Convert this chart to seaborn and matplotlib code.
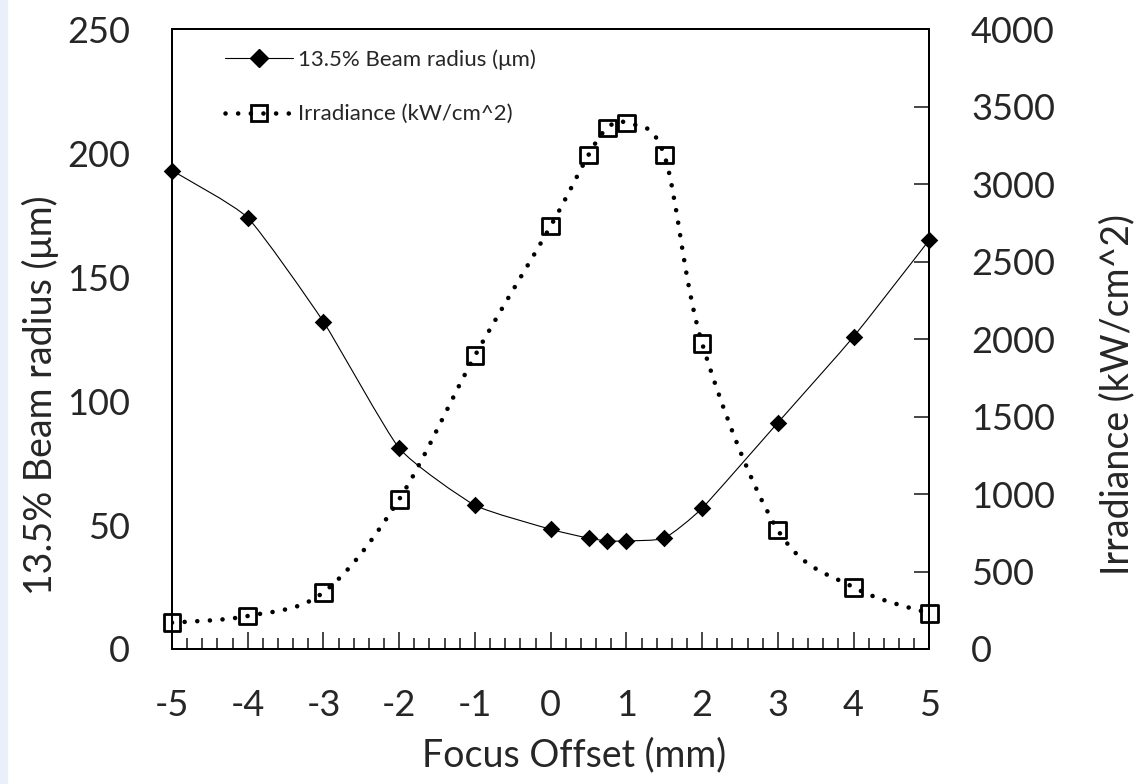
import numpy as np
import pandas as pd
import seaborn as sns
import matplotlib.pyplot as plt
from matplotlib.path import Path
from matplotlib.patches import PathPatch, Rectangle
from matplotlib.lines import Line2D

# values
focus_offset = [-5, -4, -3, -2, -1, 0, 0.5, 0.75, 1, 1.5, 2, 3, 4, 5]
beam_radius = [193, 174, 132, 81, 58, 48.3, 44.7, 43.6, 43.6, 44.7, 56.8, 91.3, 126, 165]
irradiance = [170, 213, 366, 966, 1893, 2730, 3189, 3363, 3395, 3189, 1973, 768, 398, 230]

df = pd.DataFrame({'offset': focus_offset, 'radius': beam_radius, 'irr': irradiance})

sns.set_style('white')
plt.rcParams['font.family'] = ['Lato', 'DejaVu Sans']
plt.rcParams['axes.unicode_minus'] = False


def smooth_path(x, y, k=6.0):
    # Excel-like smoothed line: Catmull-Rom segments drawn as cubic Beziers
    pts = np.column_stack([x, y]).astype(float)
    n = len(pts)
    verts = [pts[0]]
    codes = [Path.MOVETO]
    for i in range(n - 1):
        p0 = pts[i - 1] if i > 0 else pts[i]
        p1 = pts[i]
        p2 = pts[i + 1]
        p3 = pts[i + 2] if i + 2 < n else pts[i + 1]
        verts += [p1 + (p2 - p0) / k, p2 - (p3 - p1) / k, p2]
        codes += [Path.CURVE4] * 3
    return Path(verts, codes)


fig = plt.figure(figsize=(11.34, 7.84), dpi=100)
fig.patches.append(Rectangle((0, 0), 7 / 1134, 1, transform=fig.transFigure,
                             color='#e9f0fa', zorder=0))
ax = fig.add_axes([172 / 1134, 1 - 649 / 784, (929.3 - 172) / 1134, (649 - 29.3) / 784])
ax2 = ax.twinx()

dots = (0, (0.01, 2.75))

ax.add_patch(PathPatch(smooth_path(df['offset'], df['radius'], k=12.0), facecolor='none',
                       edgecolor='black', lw=0.8, zorder=2))
sns.scatterplot(data=df, x='offset', y='radius', ax=ax, marker='D', s=80,
                color='black', edgecolor='black', linewidth=0, legend=False, zorder=3,
                clip_on=False)

ax2.add_patch(PathPatch(smooth_path(df['offset'], df['irr']), facecolor='none',
                        edgecolor='black', lw=3.3, linestyle=dots, capstyle='round',
                        zorder=2))
sns.scatterplot(data=df, x='offset', y='irr', ax=ax2, marker='s', s=145,
                facecolor='none', edgecolor='black', linewidth=2.0, legend=False,
                zorder=3, clip_on=False)

ax.set_xlim(-5, 5)
ax.set_ylim(0, 250)
ax2.set_ylim(0, 4000)
ax.set_xticks(range(-5, 6))
ax.set_xticks(np.arange(-5, 5.01, 0.2), minor=True)
ax.set_yticks(range(0, 251, 50))
ax2.set_yticks(range(0, 4001, 500))

ax.tick_params(axis='x', which='major', direction='in', length=12, width=1.2,
               labelsize=26, pad=29, top=False, bottom=True)
ax.tick_params(axis='x', which='minor', direction='in', length=8, width=1.2,
               top=False, bottom=True)
ax.tick_params(axis='y', length=0, labelsize=26, pad=30)
ax2.tick_params(axis='y', direction='in', length=11, width=1.2, labelsize=26, pad=30)

ax.set_xlabel('Focus Offset (mm)', fontsize=27, labelpad=11, x=0.531)
ax.set_ylabel('13.5% Beam radius (μm)', fontsize=27, labelpad=6, y=0.41)
ax2.set_ylabel('Irradiance (kW/cm^2)', fontsize=27, labelpad=32, y=0.41)

for a in (ax, ax2):
    for sp in a.spines.values():
        sp.set_color('black')
        sp.set_linewidth(1.4)

handles = [
    Line2D([], [], color='black', lw=0.8, marker='D', markersize=8.9),
    Line2D([], [], color='black', lw=3.3, linestyle=dots, dash_capstyle='round',
           marker='s', markersize=12, markerfacecolor='none', markeredgewidth=2.0),
]
ax.legend(handles, ['13.5% Beam radius (μm)', 'Irradiance (kW/cm^2)'],
          loc='upper left', bbox_to_anchor=(0.043, 1.0), frameon=False,
          fontsize=16, handlelength=3.1, handletextpad=0.2, labelspacing=1.55)

fig.savefig('out.png', dpi=100)
